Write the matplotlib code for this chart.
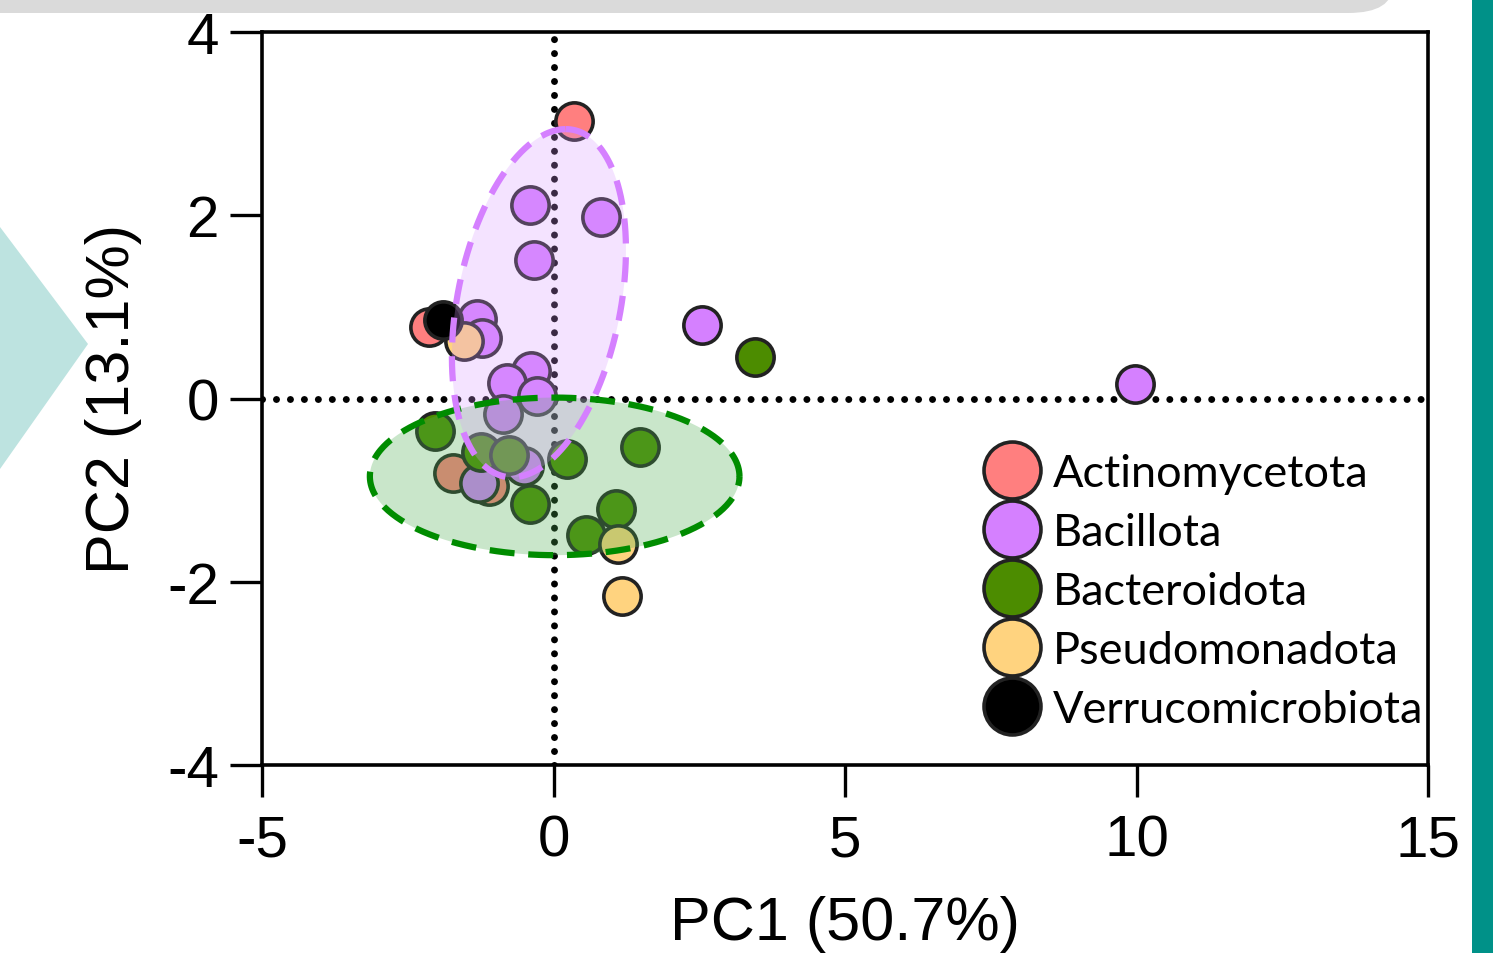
import numpy as np
import matplotlib
matplotlib.use("Agg")
import matplotlib.pyplot as plt
from matplotlib.lines import Line2D
from matplotlib.patches import Polygon, FancyBboxPatch

# ---- data ----
phyla = ["Actinomycetota", "Bacillota", "Bacteroidota", "Pseudomonadota", "Verrucomicrobiota"]
colors = ["#FF7F7F", "#D580FF", "#4C8C00", "#FFD37F", "#000000"]

act_x = [0.36, -2.14, -1.73, -1.10]
act_y = [3.03, 0.78, -0.81, -0.96]

bac_x = [-0.41, 0.81, -0.33, -1.32, -1.22, 2.54, 9.97, -0.39, -0.79, -0.29, -0.86, -0.51, -1.27]
bac_y = [2.11, 1.98, 1.51, 0.87, 0.66, 0.80, 0.16, 0.30, 0.17, 0.03, -0.17, -0.74, -0.92]

bct_x = [3.46, -2.04, 1.48, -1.25, -0.77, 0.24, -0.41, 1.08, 0.55]
bct_y = [0.45, -0.35, -0.53, -0.58, -0.62, -0.66, -1.15, -1.21, -1.49]

pse_x = [-1.54, 1.10, 1.18]
pse_y = [0.63, -1.59, -2.16]

ver_x = [-1.90]
ver_y = [0.86]

groups_x = [act_x, bac_x, bct_x, pse_x, ver_x]
groups_y = [act_y, bac_y, bct_y, pse_y, ver_y]

# confidence ellipses: centre, conjugate half-axes (data units)
bac_ell = dict(center=(-0.25, 1.04), u=(0.46, 1.90), v=(1.42, 0.0))
bct_ell = dict(center=(0.02, -0.85), u=(3.17, 0.0), v=(0.0, 0.86))

xticks = [-5, 0, 5, 10, 15]
yticks = [-4, -2, 0, 2, 4]

# ---- figure ----
W, H = 1498, 954
fig = plt.figure(figsize=(W / 100, H / 100), dpi=100)

# decorations
fig.patches.append(FancyBboxPatch((-0.05, 1 - 14 / H), 0.98, 0.1, boxstyle="round,pad=0,rounding_size=0.03",
                                  transform=fig.transFigure, facecolor="#DADADA", edgecolor="none", zorder=0))
fig.patches.append(Polygon([(0, 1 - 228 / H), (88 / W, 1 - 345 / H), (0, 1 - 470 / H)], closed=True,
                           transform=fig.transFigure, facecolor="#BDE3E0", edgecolor="none", zorder=0))
fig.patches.append(plt.Rectangle((1472 / W, 0), 21 / W, 1, transform=fig.transFigure,
                                 facecolor="#009188", edgecolor="none", zorder=0))

ax = fig.add_axes([262 / W, 1 - 766 / H, (1428 - 262) / W, (766 - 33) / H])
ax.patch.set_alpha(0)
ax.set_xlim(-5, 15)
ax.set_ylim(-4, 4)

ax.axhline(0, color="black", lw=5, linestyle=(0, (0.01, 2.0)), dash_capstyle="round", zorder=1)
ax.axvline(0, color="black", lw=5, linestyle=(0, (0.01, 2.0)), dash_capstyle="round", zorder=1)

for gx, gy, c in zip(groups_x, groups_y, colors):
    ax.scatter(gx, gy, s=720, c=c, edgecolors="#222222", linewidths=2.6, zorder=3)

t = np.linspace(0, 2 * np.pi, 400)
def draw_ell(e, fc, ec, alpha):
    cx, cy = e["center"]
    ux, uy = e["u"]
    vx, vy = e["v"]
    xs = cx + ux * np.cos(t) + vx * np.sin(t)
    ys = cy + uy * np.cos(t) + vy * np.sin(t)
    ax.fill(xs, ys, color=fc, alpha=alpha, lw=0, zorder=4)
    ax.plot(xs, ys, color=ec, lw=4.5, linestyle=(0, (4, 2.2)), zorder=5)

draw_ell(bct_ell, "#4CAF50", "#008C00", 0.3)
draw_ell(bac_ell, "#D99BFF", "#D580FF", 0.27)

for s in ax.spines.values():
    s.set_linewidth(2.6)
ax.set_xticks(xticks)
ax.set_yticks(yticks)
ax.set_xticklabels([str(v) for v in xticks])
ax.set_yticklabels([str(v) for v in yticks])
ax.tick_params(direction="out", length=23, width=2.4, labelsize=42, pad=8)
ax.tick_params(axis="x", pad=12)
for lab in ax.get_xticklabels() + ax.get_yticklabels():
    lab.set_fontfamily("Liberation Sans")

ax.set_xlabel("PC1 (50.7%)", fontsize=44, family="Liberation Sans", labelpad=20)
ax.set_ylabel("PC2 (13.1%)", fontsize=44, family="Liberation Sans", labelpad=18)

handles = [Line2D([], [], marker="o", linestyle="none", markersize=41, markerfacecolor=c,
                  markeredgecolor="#222222", markeredgewidth=2.6) for c in colors]
leg = ax.legend(handles, phyla, loc="upper left", bbox_to_anchor=(698 / 1166, (766 - 436) / 733),
                frameon=False, prop=dict(family="Lato", size=32.5), handletextpad=0.16,
                labelspacing=0.4, borderaxespad=0, handlelength=1.5)
leg.set_zorder(6)

fig.savefig("out.png", dpi=100)
